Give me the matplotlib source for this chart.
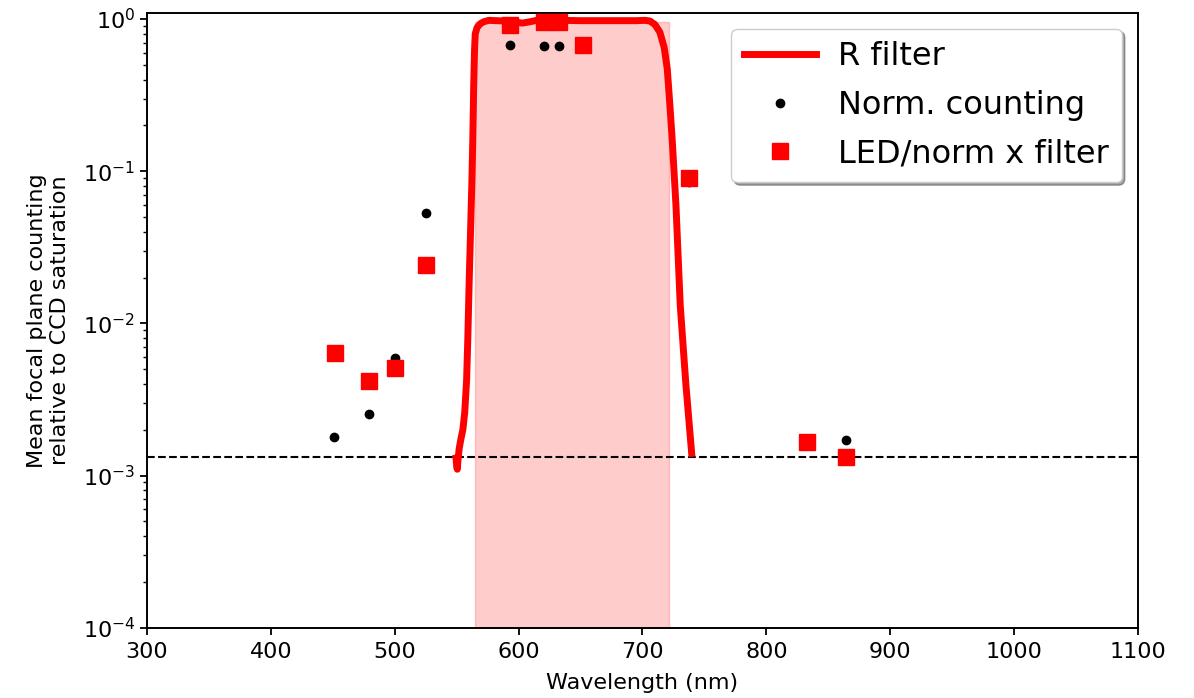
import numpy as np
import matplotlib
matplotlib.use("Agg")
import matplotlib.pyplot as plt

# R filter transmission curve
filter_wl = [549.5, 550.0, 550.5, 551.0, 552.0, 553.5, 555.0, 556.5, 558.0, 559.0,
             560.1, 561.2, 562.3, 563.0, 563.7, 564.4, 565.0, 566.5, 569.0, 572.0,
             576.0, 582.0, 590.0, 597.0, 603.0, 608.0, 612.0, 617.0, 625.0, 635.0,
             650.0, 665.0, 680.0, 695.0, 702.0, 706.0, 710.0, 714.0, 717.5, 720.0,
             722.0, 724.0, 727.0, 730.5, 735.0, 739.7]
filter_tr = [1.30e-3, 1.15e-3, 1.10e-3, 1.25e-3, 1.50e-3, 1.75e-3, 2.0e-3, 2.6e-3, 4.2e-3, 8.0e-3,
             0.019, 0.040, 0.087, 0.16, 0.35, 0.62, 0.80, 0.88, 0.93, 0.96,
             0.98, 0.975, 0.97, 0.955, 0.94, 0.955, 0.97, 0.99, 0.985, 0.98,
             0.975, 0.975, 0.975, 0.975, 0.98, 0.97, 0.92, 0.82, 0.65, 0.47,
             0.28, 0.16, 0.06, 0.013, 4.0e-3, 1.4e-3]

# Normalised counting per LED
norm_wl = [451, 479, 500, 525, 593, 620.4, 632.5, 737.5, 832.7, 864.2]
norm_val = [1.8e-3, 2.52e-3, 5.9e-3, 0.053, 0.675, 0.665, 0.665, 0.085, 1.75e-3, 1.7e-3]

# LED / normalisation x filter
led_wl = [451.7, 479, 500, 525, 593, 620.4, 632.5, 652, 737.5, 832.7, 864]
led_val = [6.35e-3, 4.2e-3, 5.1e-3, 0.024, 0.913, 0.955, 0.955, 0.675, 0.09, 1.65e-3, 1.33e-3]

# Filter band and background level
band_lo, band_hi, band_top = 565.0, 721.0, 0.96
background = 1.33e-3

fig = plt.figure(figsize=(11.94, 6.98), dpi=100)
ax = fig.add_axes([0.1231, 0.1007, 0.8300, 0.8811])

ax.fill_between([band_lo, band_hi], [1e-4, 1e-4], [band_top, band_top],
                color="red", alpha=0.2, zorder=1)
ax.plot(filter_wl, filter_tr, color="red", lw=5, label="R filter", zorder=3)
ax.plot(norm_wl, norm_val, "o", color="black", ms=6, label="Norm. counting", zorder=4)
ax.plot(led_wl, led_val, "s", color="red", ms=11, label="LED/norm x filter", zorder=5)
ax.axhline(background, color="black", ls="--", lw=1.5, zorder=2)

ax.set_yscale("log")
ax.set_xlim(300, 1100)
ax.set_ylim(1e-4, 1.1)
ax.set_xticks(np.arange(300, 1101, 100))
ax.tick_params(axis="both", which="major", labelsize=16, length=5, width=1.3)
ax.tick_params(axis="x", which="major", pad=5)
ax.tick_params(axis="y", which="minor", length=3, width=1)
for sp in ax.spines.values():
    sp.set_linewidth(1.4)

ax.set_xlabel("Wavelength (nm)", fontsize=16, labelpad=8)
ax.set_ylabel("Mean focal plane counting\nrelative to CCD saturation", fontsize=16,
              labelpad=9)

ax.legend(loc="upper right", fontsize=23, shadow=True, fancybox=True, numpoints=1,
          framealpha=1, labelspacing=0.55, handlelength=2.25, handletextpad=0.7)

fig.savefig("out.png", dpi=100)
